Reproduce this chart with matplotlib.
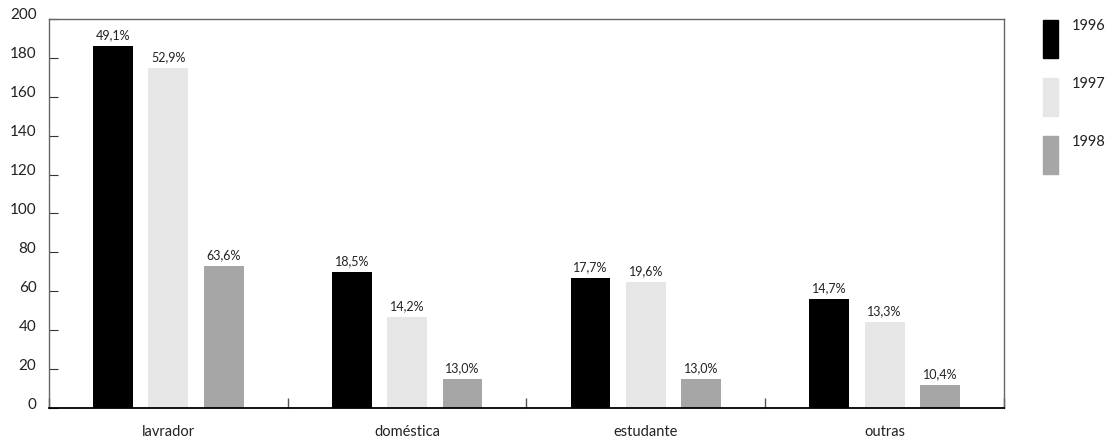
import matplotlib.pyplot as plt
import numpy as np
from matplotlib.patches import Rectangle
from matplotlib.transforms import ScaledTranslation

plt.rcParams["font.family"] = ["Lato", "DejaVu Sans"]

categories = ["lavrador", "doméstica", "estudante", "outras"]
years = ["1996", "1997", "1998"]
values_1996 = [186, 70, 67, 56]
values_1997 = [175, 47, 65, 44]
values_1998 = [73, 15, 15, 12]
labels_1996 = ["49,1%", "18,5%", "17,7%", "14,7%"]
labels_1997 = ["52,9%", "14,2%", "19,6%", "13,3%"]
labels_1998 = ["63,6%", "13,0%", "13,0%", "10,4%"]
colors = ["#000000", "#e6e6e6", "#a6a6a6"]
y_ticks = list(range(0, 201, 20))

series = [values_1996, values_1997, values_1998]
series_labels = [labels_1996, labels_1997, labels_1998]

fig = plt.figure(figsize=(11.12, 4.44), dpi=100)
ax = fig.add_axes([49 / 1112, 36 / 444, 955 / 1112, 389 / 444])

x = np.arange(len(categories))
width = 0.167
offsets = [-0.232, 0.0, 0.232]
for vals, labs, col, off in zip(series, series_labels, colors, offsets):
    bars = ax.bar(x + off, vals, width=width, color=col, linewidth=0)
    for b, lab in zip(bars, labs):
        ax.annotate(lab, (b.get_x() + b.get_width() / 2, b.get_height()),
                    xytext=(0, 3.5), textcoords="offset points",
                    ha="center", va="bottom", fontsize=9, color="#222222")

ax.set_xlim(-0.5, len(categories) - 0.5)
ax.set_ylim(0, 200)
ax.set_yticks(y_ticks)
ax.set_xticks(x)
ax.set_xticklabels(categories, fontsize=10.5, color="#222222")
ax.set_xticks(np.arange(-0.5, len(categories), 1.0), minor=True)
ax.tick_params(axis="x", which="major", length=0, pad=12)
ax.tick_params(axis="x", which="minor", direction="in", length=7, width=1,
               color="#555555")
ax.tick_params(axis="y", direction="in", length=6.5, width=0.8,
               color="#333333", labelsize=11, labelcolor="#222222", pad=9)
shift = ScaledTranslation(0, 5 / 100, fig.dpi_scale_trans)
for lab in ax.get_yticklabels():
    lab.set_transform(lab.get_transform() + shift)

for side in ["left", "top", "right"]:
    ax.spines[side].set_color("#666666")
    ax.spines[side].set_linewidth(1.0)
ax.spines["bottom"].set_color("#000000")
ax.spines["bottom"].set_linewidth(1.3)

# legend drawn by hand: tall swatches with the year at the top
for i, (yr, col) in enumerate(zip(years, colors)):
    top = 20 + i * 58
    fig.patches.append(Rectangle((1043 / 1112, 1 - (top + 38) / 444),
                                 15 / 1112, 38 / 444, color=col,
                                 transform=fig.transFigure, figure=fig))
    fig.text(1072 / 1112, 1 - (top - 1) / 444, yr, ha="left", va="top",
             fontsize=10.5, color="#222222")

fig.savefig("out.png", dpi=100)
